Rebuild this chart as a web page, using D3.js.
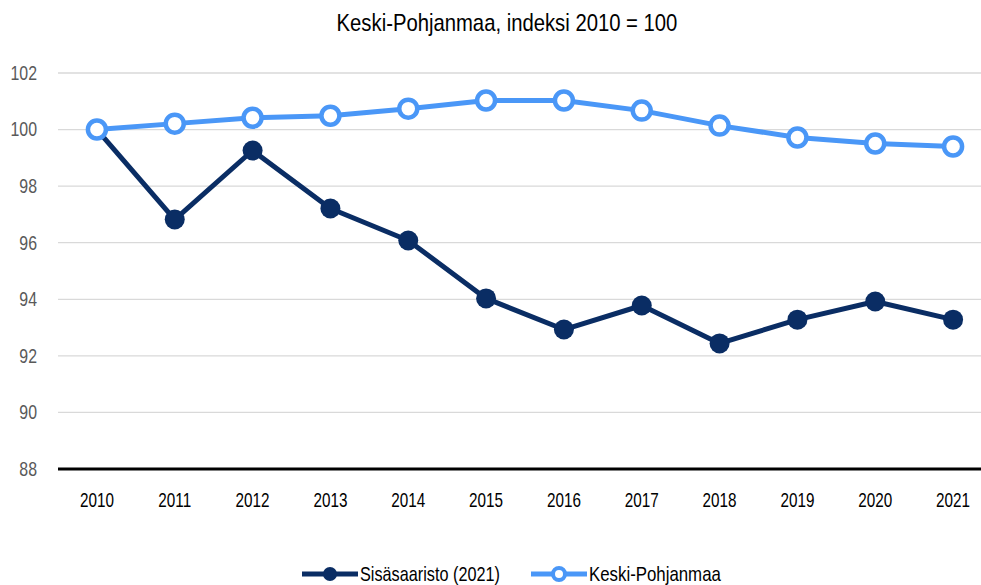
<!DOCTYPE html>
<html><head><meta charset="utf-8">
<script src="https://cdn.jsdelivr.net/npm/d3@7"></script>
<style>
body{margin:0;background:#fff;}
text{font-family:"Liberation Sans",Arial,sans-serif;}
</style></head>
<body><svg id="c" width="981" height="585"></svg>
<script>
const years = ["2010","2011","2012","2013","2014","2015","2016","2017","2018","2019","2020","2021"];
const sisasaaristo = [100, 96.82, 99.26, 97.21, 96.08, 94.03, 92.93, 93.78, 92.44, 93.28, 93.92, 93.28];
const keskiPohjanmaa = [100, 100.21, 100.42, 100.49, 100.74, 101.03, 101.03, 100.67, 100.14, 99.72, 99.51, 99.40];
const yTicks = [88, 90, 92, 94, 96, 98, 100, 102];
const seriesNames = ["Sisäsaaristo (2021)", "Keski-Pohjanmaa"];
const colors = ["#0a2d64", "#4a97f7"];

const svg = d3.select("#c");
const x = d3.scaleBand().domain(years).range([58, 992]);
const y = d3.scaleLinear().domain([88, 102]).range([469, 73]);

// condense text horizontally around its anchor point to mimic a condensed face
function condense(sel, f) {
  sel.each(function() {
    const t = d3.select(this);
    const ax = +(t.attr("x") || 0);
    t.attr("transform", `translate(${ax},0) scale(${f},1) translate(${-ax},0)`);
  });
}
function lenOf(sel, str) {
  let L = 0;
  sel.each(function() { if (this.textContent === str) L = this.getComputedTextLength(); });
  return L;
}

const title = svg.append("text").attr("x", 507).attr("y", 31).attr("text-anchor", "middle")
  .attr("font-size", 24).attr("fill", "#000").text("Keski-Pohjanmaa, indeksi 2010 = 100");
condense(title, 341 / title.node().getComputedTextLength());

const grid = svg.append("g");
yTicks.filter(t => t !== 88).forEach(t => {
  grid.append("line").attr("x1", 58).attr("x2", 981).attr("y1", y(t)).attr("y2", y(t))
    .attr("stroke", "#d9d9d9").attr("stroke-width", 1.3);
});

const yAxis = svg.append("g").attr("transform", "translate(37,0)")
  .call(d3.axisLeft(y).tickValues(yTicks).tickSize(0).tickPadding(0));
yAxis.select(".domain").remove();
yAxis.selectAll("text").attr("font-size", 20).attr("fill", "#595959").attr("text-anchor", "end")
  .style("font-family", "'Liberation Sans',Arial,sans-serif");
condense(yAxis.selectAll("text"), 26.5 / lenOf(yAxis.selectAll("text"), "102"));

svg.append("line").attr("x1", 58).attr("x2", 981).attr("y1", y(88)).attr("y2", y(88))
  .attr("stroke", "#000").attr("stroke-width", 3.2);

const xAxis = svg.append("g").attr("transform", `translate(0,${y(88) + 38})`)
  .call(d3.axisBottom(x).tickSize(0).tickPadding(0));
xAxis.select(".domain").remove();
xAxis.selectAll("text").attr("font-size", 20).attr("fill", "#000").attr("dy", 0).attr("y", 0)
  .style("font-family", "'Liberation Sans',Arial,sans-serif");
condense(xAxis.selectAll("text"), 34 / lenOf(xAxis.selectAll("text"), "2010"));

const cx = d => x(d) + x.bandwidth() / 2;
const line = d3.line().x((d, i) => cx(years[i])).y(d => y(d));

function drawSeries(data, color, filled) {
  svg.append("path").datum(data).attr("d", line).attr("fill", "none")
    .attr("stroke", color).attr("stroke-width", 5).attr("stroke-linejoin", "round");
  svg.append("g").selectAll("circle").data(data).join("circle")
    .attr("cx", (d, i) => cx(years[i])).attr("cy", d => y(d))
    .attr("r", filled ? 10 : 9)
    .attr("fill", filled ? color : "#fff")
    .attr("stroke", color).attr("stroke-width", filled ? 0 : 4.5);
}
drawSeries(sisasaaristo, colors[0], true);
drawSeries(keskiPohjanmaa, colors[1], false);

// legend
const leg = [{x: 302, name: seriesNames[0], c: colors[0], f: true, w: 140}, {x: 531, name: seriesNames[1], c: colors[1], f: false, w: 132}];
leg.forEach(l => {
  const g = svg.append("g");
  g.append("line").attr("x1", l.x).attr("x2", l.x + 56).attr("y1", 574).attr("y2", 574)
    .attr("stroke", l.c).attr("stroke-width", 5);
  g.append("circle").attr("cx", l.x + 28).attr("cy", 574).attr("r", l.f ? 7 : 6)
    .attr("fill", l.f ? l.c : "#fff").attr("stroke", l.c).attr("stroke-width", l.f ? 0 : 4);
  const t = g.append("text").attr("x", l.x + 58).attr("y", 581).attr("font-size", 20).attr("fill", "#000").text(l.name);
  condense(t, l.w / t.node().getComputedTextLength());
});
</script></body></html>
